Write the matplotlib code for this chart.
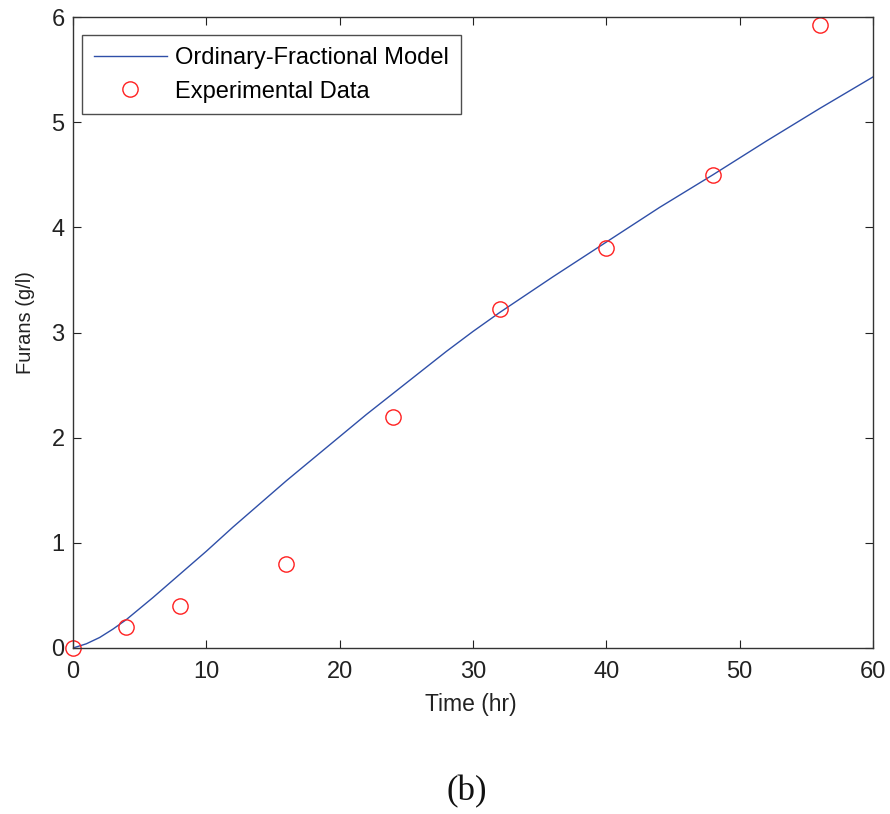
import matplotlib
matplotlib.use("Agg")
import matplotlib.pyplot as plt
import numpy as np

plt.rcParams['font.family'] = ['Liberation Sans', 'DejaVu Sans']

# Model curve
model_t = [0, 1, 2, 3, 4, 6, 8, 10, 12, 14, 16, 18, 20, 22, 24, 26, 28, 30, 32, 36, 40, 44, 48, 52, 56, 60]
model_y = [0, 0.04, 0.10, 0.18, 0.27, 0.48, 0.70, 0.92, 1.15, 1.37, 1.59, 1.80, 2.01, 2.22, 2.42, 2.62, 2.82, 3.01, 3.19, 3.53, 3.86, 4.19, 4.50, 4.82, 5.13, 5.43]

# Experimental data
exp_t = [0, 4, 8, 16, 24, 32, 40, 48, 56]
exp_y = [0, 0.2, 0.4, 0.8, 2.2, 3.22, 3.8, 4.5, 5.92]

xticks = [0, 10, 20, 30, 40, 50, 60]
yticks = [0, 1, 2, 3, 4, 5, 6]

fig = plt.figure(figsize=(8.90, 8.14), dpi=100)
ax = fig.add_axes([73/890, 166/814, 800/890, 631/814])

ax.plot(model_t, model_y, color='#2f4fa8', lw=1.0, label='Ordinary-Fractional Model')
ax.plot(exp_t, exp_y, 'o', mfc='none', mec='#ff2020', ms=11, mew=1.0,
        label='Experimental Data', clip_on=False)

ax.set_xlim(0, 60)
ax.set_ylim(0, 6)
ax.set_xticks(xticks)
ax.set_yticks(yticks)
ax.tick_params(direction='in', top=True, right=True, length=6, labelsize=17, colors='#222222')
ax.tick_params(axis='x', pad=9)
ax.tick_params(axis='y', pad=6)
for s in ax.spines.values():
    s.set_linewidth(1.0)
    s.set_color('#333333')

ax.set_xlabel('Time (hr)', fontsize=16.5, color='#222222')
ax.xaxis.set_label_coords(0.4975, -0.072)
ax.set_ylabel('Furans (g/l)', fontsize=14.5, color='#222222', va='center')
ax.yaxis.set_label_coords(-0.059, 0.515)

leg = ax.legend(loc='upper left', bbox_to_anchor=(9/800, 1 - 18/631), fontsize=17, frameon=True,
                fancybox=False, edgecolor='#222222', borderpad=0.5, handlelength=3.1,
                handletextpad=0.35, labelspacing=0.5, borderaxespad=0)
leg.get_frame().set_linewidth(1.0)

fig.text(467/890, 1 - 792/814, '(b)', fontsize=25, family='Liberation Serif',
         ha='center', va='center', color='#111111')

fig.savefig('out.png', dpi=100)
